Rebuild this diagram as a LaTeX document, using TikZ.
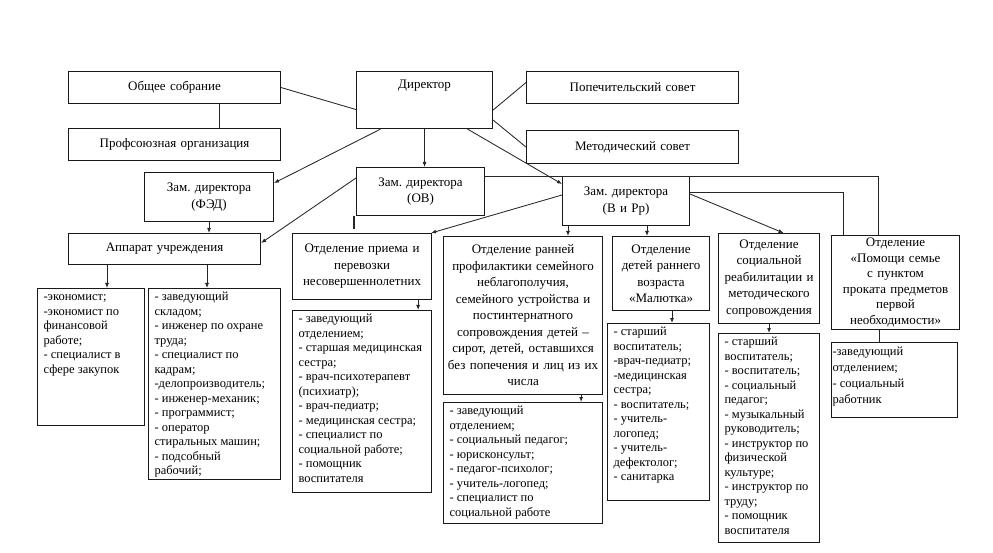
\documentclass[tikz,border=0pt]{standalone}
\usepackage{fontspec}
\setmainfont{Liberation Serif}
\usetikzlibrary{arrows.meta,positioning,calc}
\frenchspacing
\newcommand{\hdf}{\fontsize{13}{16.5}\selectfont}
\newcommand{\lsf}{\fontsize{12.5}{14.5}\selectfont}
\newcommand{\cell}[3]{\parbox[t][#2][t]{#1}{\raggedright\vspace*{2pt}\strut#3}}

\begin{document}
\begin{tikzpicture}[x=1pt, y=-1pt,
   hd/.style={draw=black!90, line width=1.1pt, anchor=north west, inner sep=0pt,
              align=center, font=\hdf},
   lst/.style={draw=black!90, line width=1.1pt, anchor=north west, inner xsep=6pt,
               inner ysep=0pt, font=\lsf},
   ln/.style={draw=black!85, line width=0.85pt},
   arr/.style={ln, -{Latex[length=5pt,width=4pt]}}
]
\useasboundingbox (0,0) rectangle (993,553);

% top level
\node[hd] (dir) at (356,71) {\parbox[t][57pt][t]{136pt}{\centering\vspace*{5pt}\strut Директор}};
\node[hd, text width=212pt, minimum height=32pt] (sobr) at (68,71) {Общее собрание};
\node[hd, text width=212pt, minimum height=32pt] (prof) at (68,128) {Профсоюзная организация};
\node[hd, text width=212pt, minimum height=32pt] (popech) at (526,71) {Попечительский совет};
\node[hd, text width=212pt, minimum height=33pt] (metod) at (526,130) {Методический совет};

% deputies
\node[hd, text width=129pt, minimum height=49pt] (fed) at (144,172) {Зам. директора\\(ФЭД)};
\node[hd, text width=128pt, minimum height=48pt] (ov) at (356,167) {Зам. директора\\(ОВ)};
\node[hd, text width=127pt, minimum height=49pt] (vrr) at (562,176) {Зам. директора\\(В и Рр)};

% departments
\node[hd, text width=192pt, minimum height=31pt] (app) at (68,233) {Аппарат учреждения};
\node[hd, text width=139pt, minimum height=66pt] (priem) at (292,233)
  {Отделение приема и\\перевозки\\несовершеннолетних};
\node[hd, text width=159pt, minimum height=158pt] (rann) at (443,236)
  {Отделение ранней\\профилактики семейного\\неблагополучия,\\семейного устройства и\\постинтернатного\\сопровождения детей –\\сирот, детей, оставшихся\\без попечения и лиц из их\\числа};
\node[hd, text width=97pt, minimum height=74pt] (mal) at (612,236)
  {Отделение\\детей раннего\\возраста\\«Малютка»};
\node[hd, text width=101pt, minimum height=90pt] (reab) at (718,233)
  {Отделение\\социальной\\реабилитации и\\методического\\сопровождения};
\node[hd, text width=128pt, minimum height=94pt, font=\fontsize{13}{15.5}\selectfont] (pom) at (831,235)
  {Отделение\\«Помощи семье\\с пунктом\\проката предметов\\первой\\необходимости»};

% staff lists
\node[lst] (ecoL) at (37,288) {\cell{95pt}{137pt}{-экономист;\\-экономист по\\финансовой\\работе;\\- специалист в\\сфере закупок}};
\node[lst] (sklL) at (148,288) {\cell{120pt}{191pt}{- заведующий\\складом;\\- инженер по охране\\труда;\\- специалист по\\кадрам;\\-делопроизводитель;\\- инженер-механик;\\- программист;\\- оператор\\стиральных машин;\\- подсобный\\рабочий;}};
\node[lst] (priemL) at (292,310) {\cell{127pt}{182pt}{- заведующий\\отделением;\\- старшая медицинская\\сестра;\\- врач-психотерапевт\\(психиатр);\\- врач-педиатр;\\- медицинская сестра;\\- специалист по\\социальной работе;\\- помощник\\воспитателя}};
\node[lst] (rannL) at (443,402) {\cell{147pt}{121pt}{- заведующий\\отделением;\\- социальный педагог;\\- юрисконсульт;\\- педагог-психолог;\\- учитель-логопед;\\- специалист по\\социальной работе}};
\node[lst] (malL) at (607,323) {\cell{90pt}{177pt}{- старший\\воспитатель;\\-врач-педиатр;\\-медицинская\\сестра;\\- воспитатель;\\- учитель-\\логопед;\\- учитель-\\дефектолог;\\- санитарка}};
\node[lst] (reabL) at (718,333) {\cell{89pt}{209pt}{- старший\\воспитатель;\\- воспитатель;\\- социальный\\педагог;\\- музыкальный\\руководитель;\\- инструктор по\\физической\\культуре;\\- инструктор по\\труду;\\- помощник\\воспитателя}};
\node[lst, inner xsep=1pt, font=\fontsize{12.5}{16}\selectfont] (pomL) at (831,342) {\cell{124pt}{75pt}{-заведующий\\отделением;\\- социальный\\работник}};

% connectors
\draw[ln] (sobr.east) -- ([yshift=-9.5pt]dir.west);
\draw[ln] ([xshift=45pt]sobr.south) -- ([xshift=45pt]prof.north);
\draw[ln] ([yshift=-10pt]dir.east) -- ([yshift=5pt]popech.west);
\draw[ln] ([yshift=-20pt]dir.east) -- (metod.west);
\draw[arr] ([xshift=43pt]dir.south) -- ([yshift=-8pt]vrr.north west);
\draw[arr] (dir.south) -- (dir.south |- ov.north);
\draw[arr] ([xshift=-44pt]dir.south) -- ([yshift=-11pt]fed.north east);
\draw[arr] (fed.south) -- (fed.south |- app.north);
\draw[arr] ([yshift=-11pt]ov.north west) -- ([yshift=-10pt]app.north east);
\draw[ln, line width=1.4pt, shorten >=4pt] ([xshift=-2pt]ov.south west) -- ([xshift=-2pt]ov.south west |- priem.north);
\draw[ln] ([yshift=-9pt]ov.north east) -| ([xshift=-17pt]pom.north);
\draw[ln] ([yshift=-16pt]vrr.north east) -| ([xshift=-52pt]pom.north);
\draw[arr] ([yshift=-18pt]vrr.north east) -- ([xshift=14.5pt]reab.north);
\draw[arr] ([xshift=6pt]vrr.south west) -- ([xshift=6pt]vrr.south west |- rann.north);
\draw[arr] ([xshift=85pt]vrr.south west) -- ([xshift=85pt]vrr.south west |- mal.north);
\draw[arr] ([yshift=-19pt]vrr.north west) -- ([xshift=-1pt]priem.north east);
\draw[arr] ([xshift=39pt]app.south west) -- ([xshift=39pt]app.south west |- ecoL.north);
\draw[arr] ([xshift=139pt]app.south west) -- ([xshift=139pt]app.south west |- sklL.north);
\draw[arr] ([xshift=-14pt]priem.south east) -- ([xshift=-14pt]priem.south east |- priemL.north);
\draw[arr] ([xshift=-22pt]rann.south east) -- ([xshift=-22pt]rann.south east |- rannL.north);
\draw[arr] ([xshift=60pt]mal.south west) -- ([xshift=60pt]mal.south west |- malL.north);
\draw[arr] (reab.south) -- (reab.south |- reabL.north);
\draw[ln] ([xshift=-16pt]pom.south) -- ([xshift=-16pt]pom.south |- pomL.north);
\end{tikzpicture}
\end{document}
